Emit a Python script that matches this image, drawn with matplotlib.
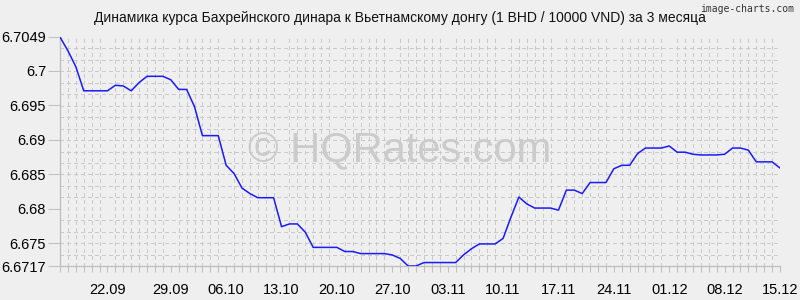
import matplotlib
matplotlib.use("Agg")
import matplotlib.pyplot as plt
import numpy as np
from matplotlib.ticker import FixedLocator

title = "Динамика курса Бахрейнского динара к Вьетнамскому донгу (1 BHD / 10000 VND) за 3 месяца"

rates = [
    6.7049, 6.7029, 6.7006, 6.6971, 6.6971, 6.6971, 6.6971, 6.6979, 6.6978, 6.6971,
    6.6983, 6.6992, 6.6992, 6.6992, 6.6987, 6.6973, 6.6973, 6.6948, 6.6906, 6.6906,
    6.6906, 6.6863, 6.6851, 6.6830, 6.6822, 6.6816, 6.6816, 6.6816, 6.6774, 6.6778,
    6.6778, 6.6766, 6.6744, 6.6744, 6.6744, 6.6744, 6.6738, 6.6738, 6.6735, 6.6735,
    6.6735, 6.6735, 6.6733, 6.6728, 6.6717, 6.6717, 6.6722, 6.6722, 6.6722, 6.6722,
    6.6722, 6.6733, 6.6742, 6.6749, 6.6749, 6.6749, 6.6757, 6.6788, 6.6817, 6.6807,
    6.6801, 6.6801, 6.6801, 6.6798, 6.6827, 6.6827, 6.6822, 6.6838, 6.6838, 6.6838,
    6.6858, 6.6863, 6.6863, 6.6880, 6.6888, 6.6888, 6.6888, 6.6891, 6.6882, 6.6882,
    6.6879, 6.6878, 6.6878, 6.6878, 6.6879, 6.6888, 6.6888, 6.6885, 6.6868, 6.6868,
    6.6868, 6.6859,
]

x_labels = ["22.09", "29.09", "06.10", "13.10", "20.10", "27.10", "03.11",
            "10.11", "17.11", "24.11", "01.12", "08.12", "15.12"]
x_label_days = [6, 14, 21, 28, 35, 42, 49, 56, 63, 70, 77, 84, 91]

y_ticks = [6.6717, 6.675, 6.68, 6.685, 6.69, 6.695, 6.7, 6.7049]
y_labels = ["6.6717", "6.675", "6.68", "6.685", "6.69", "6.695", "6.7", "6.7049"]

bg = "#efefef"
plt.rcParams['font.family'] = ['Liberation Sans', 'DejaVu Sans']

fig = plt.figure(figsize=(8, 3), dpi=100, facecolor=bg)
ax = fig.add_axes([0.075, 0.1133, 0.9, 0.7634])
ax.set_facecolor(bg)

days = np.arange(len(rates))
ymin, ymax = 6.6717, 6.7049
ax.set_xlim(0, len(rates) - 1)
ax.set_ylim(ymin, ymax)

# grid
ax.xaxis.set_minor_locator(FixedLocator(np.arange(0, len(rates))))
ax.yaxis.set_minor_locator(FixedLocator(np.linspace(ymin, ymax, 21)))
ax.grid(which='minor', color='#cacaca', linestyle=(0, (3, 3)), linewidth=0.75,
        snap=True, antialiased=False)
ax.grid(which='major', visible=False)

ax.plot(days, rates, color='#1a1aff', linewidth=1.1, zorder=3)

ax.set_xticks(x_label_days)
ax.set_xticklabels(x_labels, fontsize=10.5)
ax.set_yticks(y_ticks)
ax.set_yticklabels(y_labels, fontsize=10.5)

ax.tick_params(axis='x', which='both', length=4, color='#c0c0c0', width=0.75, pad=8)
ax.tick_params(axis='y', which='major', length=9, color='#c0c0c0', width=0.75, pad=1)
ax.tick_params(axis='y', which='minor', length=0)

for s in ['top', 'right']:
    ax.spines[s].set_visible(False)
for s in ['left', 'bottom']:
    ax.spines[s].set_color('#bdbdbd')
    ax.spines[s].set_linewidth(0.9)

fig.text(0.5, 0.94, title, ha='center', va='center', fontsize=10, color='#111111')
fig.text(0.993, 0.985, "image-charts.com", ha='right', va='top', fontsize=7,
         family='DejaVu Sans Mono', color='#333333')
fig.text(0.5, 0.5, "© HQRates.com", ha='center', va='center', fontsize=30,
         color='#cbcbcb', zorder=0)

fig.savefig("out.png", dpi=100, facecolor=bg)
